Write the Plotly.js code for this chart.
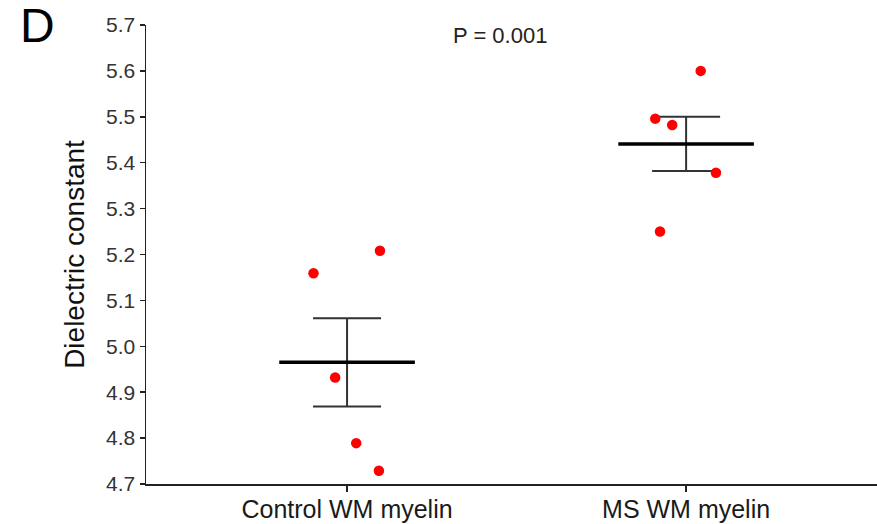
<!DOCTYPE html>
<html>
<head>
<meta charset="utf-8">
<script src="https://cdn.plot.ly/plotly-3.0.1.min.js"></script>
<style>html,body{margin:0;padding:0;background:#fff;}#chart{width:877px;height:524px;}</style>
</head>
<body>
<div id="chart"></div>
<script>
// Data
const categories = ["Control WM myelin", "MS WM myelin"];
const controlValues = [5.159, 5.208, 4.932, 4.789, 4.729];
const controlJitter = [-0.099, 0.097, -0.035, 0.027, 0.094];
const msValues = [5.600, 5.496, 5.482, 5.378, 5.250];
const msJitter = [0.043, -0.091, -0.041, 0.088, -0.077];
const groupMeans = [4.965, 5.441];
const groupSEM = [0.096, 0.059];
const yTickVals = [4.7, 4.8, 4.9, 5.0, 5.1, 5.2, 5.3, 5.4, 5.5, 5.6, 5.7];
const pValueText = "P = 0.001";
const panelLabel = "D";

const groups = [controlValues, msValues];
const jitters = [controlJitter, msJitter];

const traces = [];
// error bars (SEM) with caps
traces.push({
  type: 'scatter', mode: 'markers',
  x: categories.map((c, i) => i), y: groupMeans,
  marker: {size: 1, color: 'rgba(0,0,0,0)'},
  error_y: {type: 'data', array: groupSEM, visible: true, color: '#333', thickness: 2, width: 34},
  hoverinfo: 'skip', showlegend: false
});
// mean lines
groupMeans.forEach((m, i) => {
  traces.push({
    type: 'scatter', mode: 'lines',
    x: [i - 0.2, i + 0.2], y: [m, m],
    line: {color: '#000', width: 3.5},
    hoverinfo: 'skip', showlegend: false
  });
});
// individual points
groups.forEach((vals, i) => {
  traces.push({
    type: 'scatter', mode: 'markers',
    x: vals.map((v, k) => i + jitters[i][k]), y: vals,
    marker: {color: '#ff0000', size: 10.5},
    name: categories[i], showlegend: false
  });
});

const layout = {
  width: 877, height: 524,
  margin: {l: 146, r: 0, t: 25, b: 40},
  paper_bgcolor: '#fff', plot_bgcolor: '#fff',
  font: {family: 'Liberation Sans, Arial, sans-serif', color: '#222'},
  showlegend: false,
  xaxis: {
    range: [-0.593, 1.563],
    tickvals: [0, 1], ticktext: categories,
    showline: true, linecolor: '#222', linewidth: 1.5,
    ticks: 'outside', ticklen: 6, tickwidth: 1.5, tickcolor: '#222',
    ticklabelstandoff: -4,
    showgrid: false, zeroline: false,
    tickfont: {size: 25, color: '#1a1a1a'}
  },
  yaxis: {
    range: [4.7, 5.7],
    tickvals: yTickVals, tickformat: '.1f',
    showline: true, linecolor: '#222', linewidth: 1.5,
    ticks: 'outside', ticklen: 5, tickwidth: 1.5, tickcolor: '#222',
    showgrid: false, zeroline: false,
    tickfont: {size: 21, color: '#333'},
    title: {text: 'Dielectric constant', font: {size: 28, color: '#111'}, standoff: 13}
  },
  annotations: [
    {text: pValueText, xref: 'paper', yref: 'paper', x: 0.484, y: 0.978,
     xanchor: 'center', yanchor: 'middle', showarrow: false, font: {size: 22, color: '#222'}},
    {text: panelLabel, xref: 'paper', yref: 'paper', x: -0.149, y: 1.0,
     xanchor: 'center', yanchor: 'middle', showarrow: false, font: {size: 48, color: '#000'}}
  ]
};

Plotly.newPlot('chart', traces, layout, {staticPlot: true, displayModeBar: false});
</script>
</body>
</html>
